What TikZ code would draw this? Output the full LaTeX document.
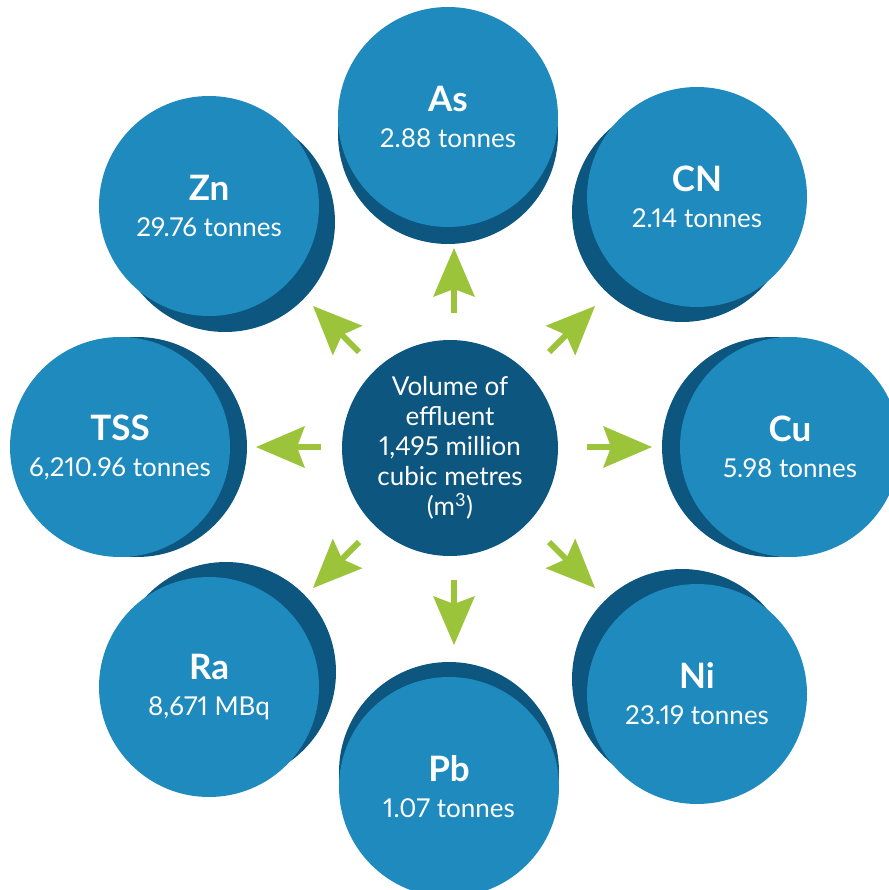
\documentclass[tikz,border=0pt]{standalone}
\usepackage{fontspec}
\setmainfont{Lato}[Numbers=Proportional]
\usetikzlibrary{arrows.meta,calc}
\definecolor{lblue}{RGB}{30,138,189}
\definecolor{dblue}{RGB}{13,86,128}
\definecolor{agreen}{RGB}{156,196,59}
\newcommand\ttlf{\fontsize{35}{36}\selectfont\bfseries}
\newcommand\valf{\fontsize{26}{36}\selectfont\mdseries}
\begin{document}
\begin{tikzpicture}[x=1pt,y=-1pt,
  outer/.style={circle, fill=lblue, minimum size=220pt, inner sep=0pt, text=white, align=center,
    font=\fontsize{26}{36}\selectfont},
  shadowc/.style={fill=dblue},
  hub/.style={circle, fill=dblue, minimum size=216pt, inner sep=0pt, text=white, align=center,
    font=\fontsize{26}{30}\selectfont},
  arr/.style={draw=agreen, line width=6pt, line cap=butt,
    -{Stealth[length=49pt, width=42pt, inset=8pt, line width=0pt]}}]
\useasboundingbox (0,0) rectangle (888,890);

% hub
\node[hub] (ctr) at (450,448) {Volume of\\effluent\\1,495 million\\cubic metres\\(m\textsuperscript{3})};

% outer circles: shadow first, then light node
\fill[shadowc] (448,134) circle (110);
\node[outer] (as) at (448,117) {\ttlf As\\\valf 2.88 tonnes};

\fill[shadowc] (682,212) circle (110);
\node[outer] (cn) at (697,197) {\ttlf CN\\\valf 2.14 tonnes};

\fill[shadowc] (772,447) circle (110);
\node[outer] (cu) at (790,447) {\ttlf Cu\\\valf 5.98 tonnes};

\fill[shadowc] (682,679) circle (110);
\node[outer] (ni) at (697,694) {\ttlf Ni\\\valf 23.19 tonnes};

\fill[shadowc] (449,772) circle (110);
\node[outer] (pb) at (449,787) {\ttlf Pb\\\valf 1.07 tonnes};

\fill[shadowc] (226,672) circle (110);
\node[outer] (ra) at (209,687) {\ttlf Ra\\\valf 8,671 MBq};

\fill[shadowc] (137,447) circle (110);
\node[outer] (tss) at (120,447) {\ttlf TSS\\\valf 6,210.96 tonnes};

\fill[shadowc] (225,222) circle (110);
\node[outer] (zn) at (209,206) {\ttlf Zn\\\valf 29.76 tonnes};

% arrow end points
\coordinate (nS) at (454,313); \coordinate (nT) at (454,248);
\coordinate (sS) at (454,580); \coordinate (sT) at (454,645);
\coordinate (eS) at (587,447); \coordinate (eT) at (652,447);
\coordinate (wS) at (321,447); \coordinate (wT) at (256,447);
\coordinate (neS) at (549,352); \coordinate (neT) at (595,306);
\coordinate (nwS) at (359,352); \coordinate (nwT) at (313,306);
\coordinate (swS) at (359,542); \coordinate (swT) at (313,588);
\coordinate (seS) at (549,542); \coordinate (seT) at (595,588);

\draw[arr] (nS) -- (nT);
\draw[arr] (sS) -- (sT);
\draw[arr] (eS) -- (eT);
\draw[arr] (wS) -- (wT);
\draw[arr] (neS) -- (neT);
\draw[arr] (nwS) -- (nwT);
\draw[arr] (swS) -- (swT);
\draw[arr] (seS) -- (seT);
\end{tikzpicture}
\end{document}
